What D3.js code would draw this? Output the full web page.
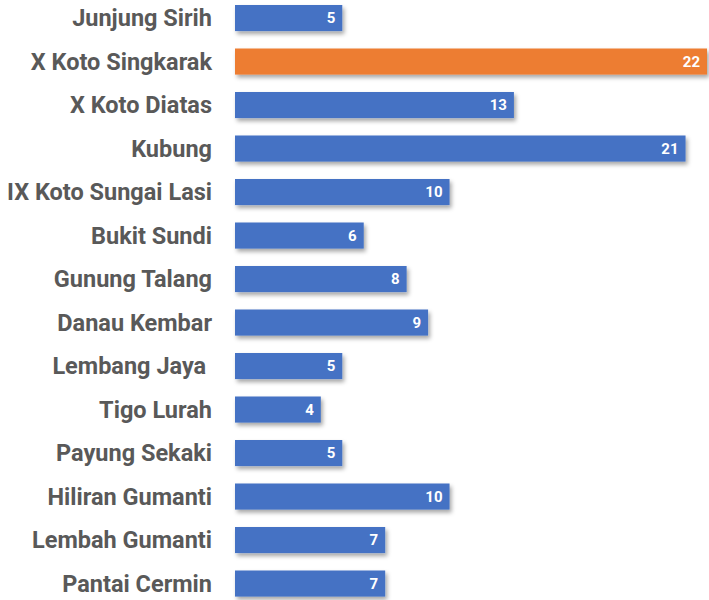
<!DOCTYPE html>
<html>
<head>
<meta charset="utf-8">
<script src="https://cdn.jsdelivr.net/npm/d3@7"></script>
<style>
  body { margin: 0; background: #fff; }
  svg { display: block; }
</style>
</head>
<body>
<svg id="chart" width="709" height="600"></svg>
<script>
const categories = ['Junjung Sirih', 'X Koto Singkarak', 'X Koto Diatas', 'Kubung', 'IX Koto Sungai Lasi',
  'Bukit Sundi', 'Gunung Talang', 'Danau Kembar', 'Lembang Jaya ', 'Tigo Lurah', 'Payung Sekaki',
  'Hiliran Gumanti', 'Lembah Gumanti', 'Pantai Cermin'];
const values = [5, 22, 13, 21, 10, 6, 8, 9, 5, 4, 5, 10, 7, 7];
const highlight = 'X Koto Singkarak';

const margin = {top: 0, right: 1, bottom: 0, left: 235};
const width = 709 - margin.left - margin.right;

const svg = d3.select('#chart');

const defs = svg.append('defs');
const shadow = defs.append('filter').attr('id', 'shadow')
  .attr('x', '-5%').attr('y', '-30%').attr('width', '115%').attr('height', '180%');
shadow.append('feDropShadow')
  .attr('dx', 2).attr('dy', 3).attr('stdDeviation', 2)
  .attr('flood-color', '#000').attr('flood-opacity', 0.35);

const chart = svg.append('g')
  .attr('transform', 'translate(' + margin.left + ',' + margin.top + ')');

const x = d3.scaleLinear()
  .domain([0, 22])
  .range([0, width - 1]);

// step ~43.5px, bar ~26px
const y = d3.scaleBand()
  .domain(categories)
  .range([-3.7, 605.3])
  .paddingInner(0.4)
  .paddingOuter(0.2);

const rows = categories.map((c, i) => ({name: c, value: values[i]}));

chart.selectAll('.bar')
  .data(rows)
  .enter().append('rect')
  .attr('class', 'bar')
  .attr('x', 0)
  .attr('y', d => y(d.name))
  .attr('width', d => x(d.value))
  .attr('height', y.bandwidth())
  .style('fill', d => d.name === highlight ? '#ED7D31' : '#4472C4')
  .attr('filter', 'url(#shadow)');

chart.selectAll('.value')
  .data(rows)
  .enter().append('text')
  .attr('class', 'value')
  .attr('x', d => x(d.value) - 7)
  .attr('y', d => y(d.name) + y.bandwidth() / 2)
  .attr('dy', '0.36em')
  .attr('text-anchor', 'end')
  .style('font-family', 'Roboto, "DejaVu Sans", sans-serif')
  .style('font-weight', 'bold')
  .style('font-size', '15px')
  .style('fill', '#fff')
  .text(d => d.value);

const yAxis = d3.axisLeft(y).tickSize(0).tickPadding(23);
chart.append('g')
  .call(yAxis)
  .call(g => g.select('.domain').remove())
  .selectAll('text')
  .attr('dy', '0.35em')
  .style('white-space', 'pre')
  .style('font-family', 'Roboto, "DejaVu Sans", sans-serif')
  .style('font-weight', 'bold')
  .style('font-size', '23.5px')
  .style('fill', '#595959');
</script>
</body>
</html>
